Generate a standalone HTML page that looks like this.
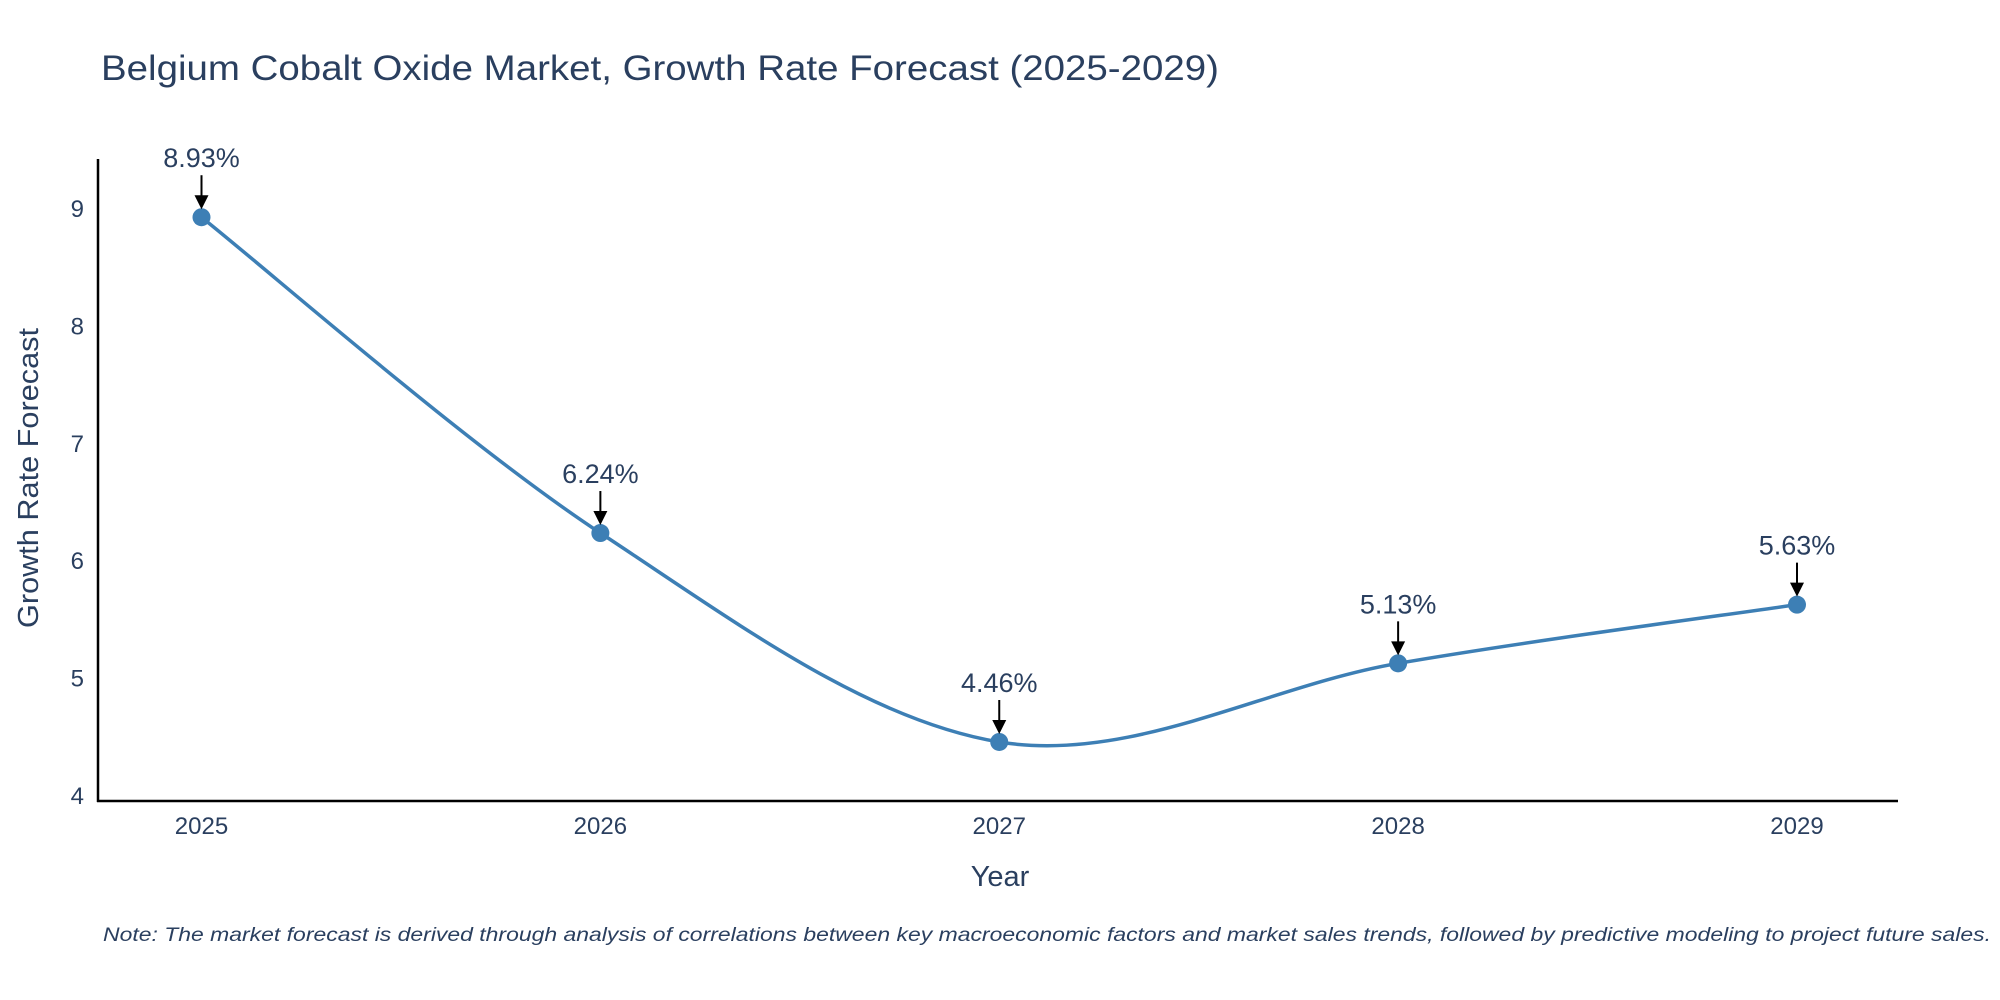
<!DOCTYPE html>
<html><head><meta charset="utf-8"><style>body{margin:0;background:#fff}svg{display:block}text{font-family:"Liberation Sans",sans-serif;fill:#2a3f5f}</style></head>
<body>
<svg id="chart" width="2000" height="1000">
<text x="101" y="80" font-size="35" textLength="1118" lengthAdjust="spacingAndGlyphs">Belgium Cobalt Oxide Market, Growth Rate Forecast (2025-2029)</text>
<g id="plot"></g>
<text x="1000" y="886" font-size="29" text-anchor="middle">Year</text>
<text transform="translate(38,478) rotate(-90)" font-size="29" text-anchor="middle" textLength="300" lengthAdjust="spacingAndGlyphs">Growth Rate Forecast</text>
<text x="103" y="941" font-size="19.5" font-style="italic" textLength="1888" lengthAdjust="spacingAndGlyphs">Note: The market forecast is derived through analysis of correlations between key macroeconomic factors and market sales trends, followed by predictive modeling to project future sales.</text>
</svg>
<script>
const years = ["2025","2026","2027","2028","2029"];
const values = [8.93, 6.24, 4.46, 5.13, 5.63];
const yTicks = [4,5,6,7,8,9];
const NS = "http://www.w3.org/2000/svg";
const g = document.getElementById("plot");
const X = i => 201.5 + i * (1797 - 201.5) / (years.length - 1);
const Y = v => 796 - (v - 4) * 117.4;
function el(tag, attrs, parent) { const e = document.createElementNS(NS, tag); for (const k in attrs) e.setAttribute(k, attrs[k]); (parent || g).appendChild(e); return e; }
const ya = el("line", {x1:98, y1:159, x2:98, y2:802, stroke:"#000", "stroke-width":2.5});


const xa = el("line", {x1:97, y1:801, x2:1898, y2:801, stroke:"#000", "stroke-width":2.5});


yTicks.forEach(t => {
  const tx = el("text", {x:84, y:Y(t) + 8, "font-size":24, "text-anchor":"end"});
  tx.textContent = t;
  
  
});
years.forEach((yr, i) => {
  const tx = el("text", {x:X(i), y:834, "font-size":24, "text-anchor":"middle"});
  tx.textContent = yr;
  
  
});
const pts = values.map((v, i) => [X(i), Y(v)]);
let d = "M" + pts[0][0] + "," + pts[0][1];
for (let i = 0; i < pts.length - 1; i++) {
  const p0 = pts[Math.max(i-1,0)], p1 = pts[i], p2 = pts[i+1], p3 = pts[Math.min(i+2,pts.length-1)];
  const k = 1/6;
  d += " C" + (p1[0]+(p2[0]-p0[0])*k) + "," + (p1[1]+(p2[1]-p0[1])*k) + " " + (p2[0]-(p3[0]-p1[0])*k) + "," + (p2[1]-(p3[1]-p1[1])*k) + " " + p2[0] + "," + p2[1];
}
const line = el("path", {d:d, fill:"none", stroke:"#3d7fb5", "stroke-width":3.5});


values.forEach((v, i) => {
  const c = el("circle", {cx:X(i), cy:Y(v), r:9, fill:"#3d7fb5"});
  
  
  const x = X(i), y = Y(v);
  const a = el("line", {x1:x, y1:y - 42, x2:x, y2:y - 20, stroke:"#000", "stroke-width":2});
  
  
  const h = el("path", {d:"M" + (x-7) + "," + (y-22) + " L" + (x+7) + "," + (y-22) + " L" + x + "," + (y-8) + " Z", fill:"#000"});
  
  
  const t = el("text", {x:x, y:y - 50, "font-size":27, "text-anchor":"middle"});
  t.textContent = v.toFixed(2) + "%";
  
  
});
</script>
</body></html>
